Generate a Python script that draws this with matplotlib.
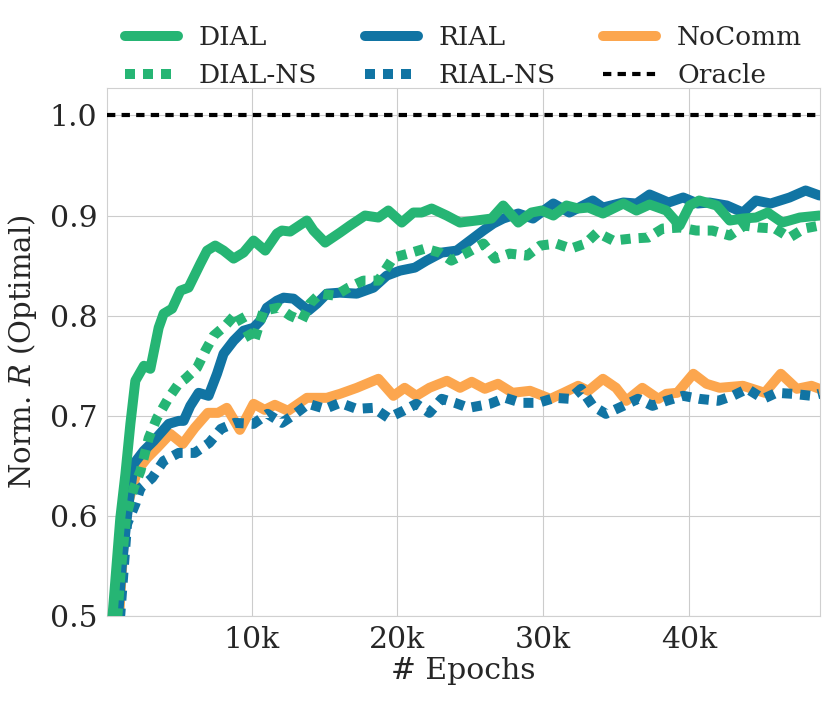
import numpy as np
import matplotlib
matplotlib.use('Agg')
import matplotlib.pyplot as plt
import seaborn as sns

# Значения (эпохи в тысячах)
dial_x = [0.3, 1.0, 1.35, 1.69, 2.03, 2.62, 3.06, 3.63, 3.97, 4.55, 5.12, 5.68, 6.49, 6.95, 7.51,
          8.08, 8.77, 9.45, 10.14, 10.94, 11.74, 12.08, 12.65, 13.79, 14.25, 15.05, 16.07, 16.75,
          17.78, 18.7, 19.38, 20.3, 21.1, 21.67, 22.35, 23.38, 24.29, 25.4, 26.46, 27.26, 28.29,
          29.2, 29.9, 30.7, 31.6, 32.4, 33.1, 34.1, 35.5, 36.4, 37.3, 38.45, 39.36, 40.05, 40.7,
          41.9, 42.8, 43.7, 44.6, 45.4, 46.4, 47.6, 48.95]
dial_y = [0.47, 0.598, 0.642, 0.692, 0.735, 0.75, 0.747, 0.788, 0.802, 0.807, 0.825, 0.828, 0.852,
          0.865, 0.87, 0.865, 0.857, 0.863, 0.875, 0.865, 0.882, 0.885, 0.884, 0.895, 0.885, 0.873,
          0.883, 0.89, 0.9, 0.898, 0.905, 0.893, 0.903, 0.903, 0.907, 0.9, 0.893, 0.895, 0.897,
          0.91, 0.893, 0.903, 0.905, 0.9, 0.91, 0.907, 0.908, 0.902, 0.912, 0.905, 0.911, 0.905,
          0.89, 0.91, 0.915, 0.91, 0.895, 0.897, 0.898, 0.903, 0.893, 0.898, 0.9]

dialns_x = [0.7, 1.0, 1.4, 1.92, 2.38, 2.95, 3.52, 4.32, 5.0, 5.46, 6.26, 6.83, 7.4, 8.2, 9.0,
            9.57, 10.14, 10.82, 11.85, 12.65, 13.45, 14.0, 14.7, 15.73, 16.64, 17.67, 18.7,
            19.73, 20.75, 21.9, 22.9, 23.7, 24.8, 25.9, 26.7, 27.7, 28.9, 29.8, 30.9, 31.9, 32.9,
            33.7, 34.8, 36.05, 37.2, 38.2, 39.4, 40.5, 41.6, 42.8, 43.8, 44.8, 45.9, 46.9, 47.9,
            48.95]
dialns_y = [0.48, 0.54, 0.6, 0.628, 0.645, 0.678, 0.698, 0.718, 0.732, 0.737, 0.748, 0.765, 0.78,
            0.79, 0.803, 0.788, 0.773, 0.805, 0.808, 0.8, 0.795, 0.812, 0.822, 0.82, 0.828, 0.835,
            0.835, 0.858, 0.862, 0.867, 0.863, 0.855, 0.863, 0.872, 0.857, 0.862, 0.86, 0.87,
            0.872, 0.867, 0.872, 0.883, 0.875, 0.877, 0.878, 0.887, 0.888, 0.885, 0.885, 0.88,
            0.89, 0.888, 0.887, 0.878, 0.887, 0.89]

rial_x = [0.8, 1.1, 1.46, 1.92, 2.6, 3.29, 4.32, 5.0, 5.34, 5.8, 6.37, 7.05, 7.63, 8.08, 8.77,
          9.45, 10.14, 10.6, 11.05, 11.74, 12.2, 12.88, 13.9, 14.48, 15.16, 16.07, 17.22, 18.36,
          19.27, 20.18, 21.2, 22.0, 23.04, 24.07, 24.98, 25.89, 26.58, 27.26, 28.29, 29.3, 30.7,
          31.8, 33.4, 34.1, 35.5, 36.4, 37.3, 38.6, 39.6, 40.6, 41.4, 42.6, 43.7, 44.6, 45.6,
          46.9, 48.0, 48.95]
rial_y = [0.49, 0.55, 0.6, 0.652, 0.665, 0.675, 0.692, 0.695, 0.695, 0.71, 0.723, 0.72, 0.742,
          0.762, 0.775, 0.785, 0.788, 0.795, 0.808, 0.815, 0.818, 0.817, 0.805, 0.812, 0.822,
          0.823, 0.822, 0.828, 0.84, 0.845, 0.848, 0.855, 0.863, 0.865, 0.875, 0.885, 0.892,
          0.897, 0.902, 0.897, 0.912, 0.903, 0.915, 0.908, 0.913, 0.912, 0.921, 0.913, 0.918,
          0.912, 0.913, 0.91, 0.903, 0.915, 0.912, 0.918, 0.925, 0.92]

rialns_x = [0.85, 1.0, 1.46, 2.03, 2.38, 3.18, 3.97, 5.0, 6.1, 7.1, 7.9, 8.85, 10.14, 11.1, 12.08,
            13.0, 13.9, 15.05, 16.07, 17.2, 18.36, 19.38, 20.4, 21.3, 22.2, 23.04, 23.95, 24.9,
            26.35, 27.4, 28.5, 29.66, 30.8, 31.8, 32.6, 33.4, 34.3, 35.5, 36.5, 37.5, 38.45,
            39.6, 40.7, 42.0, 43.0, 44.0, 45.1, 46.0, 47.1, 48.4, 48.95]
rialns_y = [0.48, 0.502, 0.592, 0.612, 0.628, 0.638, 0.655, 0.663, 0.663, 0.673, 0.687, 0.693,
            0.692, 0.702, 0.693, 0.702, 0.712, 0.707, 0.713, 0.707, 0.708, 0.698, 0.705, 0.712,
            0.703, 0.717, 0.713, 0.708, 0.712, 0.718, 0.713, 0.713, 0.718, 0.717, 0.727, 0.71,
            0.702, 0.71, 0.717, 0.71, 0.715, 0.72, 0.717, 0.715, 0.72, 0.727, 0.717, 0.723,
            0.722, 0.72, 0.722]

nocomm_x = [0.85, 1.0, 1.35, 2.15, 2.84, 3.52, 4.43, 5.28, 6.1, 7.0, 7.7, 8.3, 9.2, 10.14, 10.9,
            11.6, 12.5, 13.8, 15.16, 16.07, 17.22, 18.7, 19.73, 20.5, 21.3, 22.2, 23.4, 24.3,
            25.1, 26.0, 26.9, 27.9, 29.1, 30.5, 31.4, 32.4, 33.1, 34.1, 35.0, 35.7, 36.8, 37.9,
            38.45, 39.2, 40.3, 41.2, 42.1, 43.7, 45.2, 46.3, 47.4, 48.4, 48.95]
nocomm_y = [0.48, 0.52, 0.603, 0.645, 0.658, 0.668, 0.682, 0.672, 0.688, 0.703, 0.703, 0.708,
            0.686, 0.712, 0.706, 0.711, 0.705, 0.718, 0.718, 0.722, 0.728, 0.737, 0.72, 0.728,
            0.72, 0.728, 0.735, 0.728, 0.734, 0.727, 0.732, 0.723, 0.725, 0.717, 0.723, 0.73,
            0.725, 0.737, 0.728, 0.715, 0.728, 0.717, 0.722, 0.723, 0.742, 0.732, 0.728, 0.73,
            0.723, 0.742, 0.727, 0.73, 0.727]

oracle = 1.0

green = '#26b574'
blue = '#1174a3'
orange = '#fca64e'

sns.set_style('whitegrid')
plt.rcParams['font.family'] = ['DejaVu Serif']
plt.rcParams['mathtext.fontset'] = 'dejavuserif'

fig = plt.figure(figsize=(8.31, 7.01), dpi=100)
ax = fig.add_axes([0.129, 0.121, 0.858, 0.753])

lw = 7.2
dots = (0, (1, 0.8))
k = 1000.0
ax.plot(np.array(dial_x) * k, dial_y, color=green, lw=lw, label='DIAL',
        solid_joinstyle='round', solid_capstyle='round', zorder=5)
ax.plot(np.array(dialns_x) * k, dialns_y, color=green, lw=lw, ls=dots, label='DIAL-NS', zorder=6)
ax.plot(np.array(rial_x) * k, rial_y, color=blue, lw=lw, label='RIAL',
        solid_joinstyle='round', solid_capstyle='round', zorder=3)
ax.plot(np.array(rialns_x) * k, rialns_y, color=blue, lw=lw, ls=dots, label='RIAL-NS', zorder=4)
ax.plot(np.array(nocomm_x) * k, nocomm_y, color=orange, lw=lw, label='NoComm',
        solid_joinstyle='round', solid_capstyle='round', zorder=2)
ax.axhline(oracle, color='black', lw=3, ls=(0, (2, 1.5)), label='Oracle', zorder=7)

ax.set_xlim(100, 49000)
ax.set_ylim(0.5, 1.027)
ax.set_xticks([10000, 20000, 30000, 40000])
ax.set_xticklabels(['10k', '20k', '30k', '40k'])
ax.set_yticks([0.5, 0.6, 0.7, 0.8, 0.9, 1.0])
ax.tick_params(labelsize=21.5, colors='#262626')

ax.set_xlabel('# Epochs', fontsize=21.5, color='#262626', labelpad=2)
ax.set_ylabel('Norm. $R$ (Optimal)', fontsize=21, color='#262626', labelpad=8)

for s in ax.spines.values():
    s.set_color('#d0d0d0')

ax.legend(loc='lower center', bbox_to_anchor=(0.5, 0.975), ncol=3, frameon=False,
          fontsize=19, handlelength=2.0, columnspacing=1.8, borderaxespad=0.1,
          labelspacing=0.5)

plt.savefig('out.png', dpi=100)
